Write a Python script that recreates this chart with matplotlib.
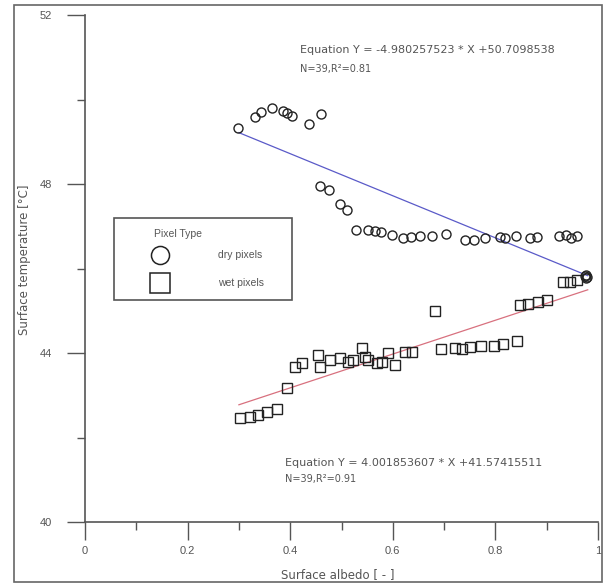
import numpy as np
import matplotlib
matplotlib.use("Agg")
import matplotlib.pyplot as plt
from matplotlib.lines import Line2D
from matplotlib.patches import Rectangle

plt.rcParams['font.family'] = ['Liberation Sans', 'DejaVu Sans']

# dry pixels (circles)
dry_albedo = [0.298, 0.331, 0.343, 0.365, 0.386, 0.394, 0.403, 0.437, 0.460,
              0.458, 0.476, 0.497, 0.511, 0.528, 0.552, 0.565, 0.577, 0.598,
              0.620, 0.635, 0.653, 0.676, 0.704, 0.741, 0.758, 0.780, 0.809,
              0.819, 0.840, 0.867, 0.881, 0.924, 0.938, 0.947, 0.959, 0.975,
              0.977, 0.977, 0.979]
dry_temp = [49.33, 49.59, 49.70, 49.80, 49.73, 49.68, 49.61, 49.42, 49.66,
            47.95, 47.86, 47.53, 47.38, 46.91, 46.91, 46.89, 46.86, 46.79,
            46.72, 46.74, 46.77, 46.77, 46.82, 46.67, 46.67, 46.72, 46.74,
            46.72, 46.77, 46.72, 46.74, 46.77, 46.79, 46.72, 46.77, 45.82,
            45.78, 45.85, 45.80]

# wet pixels (squares)
wet_albedo = [0.302, 0.322, 0.337, 0.355, 0.374, 0.394, 0.409, 0.423, 0.454,
              0.458, 0.478, 0.497, 0.513, 0.522, 0.540, 0.546, 0.552, 0.569,
              0.579, 0.591, 0.604, 0.624, 0.637, 0.682, 0.694, 0.721, 0.735,
              0.750, 0.772, 0.797, 0.815, 0.842, 0.848, 0.864, 0.883, 0.901,
              0.932, 0.945, 0.959]
wet_temp = [42.46, 42.49, 42.53, 42.60, 42.67, 43.17, 43.67, 43.76, 43.95,
            43.67, 43.83, 43.88, 43.79, 43.83, 44.12, 43.91, 43.83, 43.76,
            43.79, 44.00, 43.72, 44.02, 44.02, 44.99, 44.09, 44.12, 44.09,
            44.14, 44.17, 44.17, 44.21, 44.28, 45.14, 45.16, 45.21, 45.25,
            45.68, 45.68, 45.73]

dry_fit = (-4.980257523, 50.7098538)
wet_fit = (4.001853607, 41.57415511)
fit_range = [0.3, 0.98]

fig = plt.figure(figsize=(6.13, 5.86), dpi=100)
ax = fig.add_axes([85/613, 1-522/586, 513/613, 507/586])

tc = '#555555'
wide = ['DejaVu Sans']
xf = np.array(fit_range)
ax.plot(xf, dry_fit[0]*xf + dry_fit[1], color='#5a5ac8', lw=0.9)
ax.plot(xf, wet_fit[0]*xf + wet_fit[1], color='#d8707e', lw=0.9)
ax.plot(dry_albedo, dry_temp, 'o', mfc='none', mec='#222222', ms=6.5, mew=1.0)
ax.plot(wet_albedo, wet_temp, 's', mfc='none', mec='#222222', ms=6.5, mew=1.0)

ax.set_xlim(0, 1)
ax.set_ylim(40, 52)
ax.set_xticks([0, 0.2, 0.4, 0.6, 0.8, 1])
ax.set_xticklabels(['0', '0.2', '0.4', '0.6', '0.8', '1'])
ax.set_xticks(np.arange(0.1, 1, 0.2), minor=True)
ax.set_yticks([40, 44, 48, 52])
ax.set_yticks([42, 46, 50], minor=True)
for s in ['top', 'right']:
    ax.spines[s].set_visible(False)
for s in ['left', 'bottom']:
    ax.spines[s].set_color('#555555')
    ax.spines[s].set_linewidth(1.2)
ax.tick_params(which='major', direction='out', length=13, width=1.0,
               color='#555555', labelsize=8, labelcolor=tc, pad=4)
ax.tick_params(axis='y', which='major', pad=11)
ax.tick_params(which='minor', direction='out', length=6, width=1.0,
               color='#555555')

ax.set_xlabel('Surface albedo [ - ]', fontsize=8.5, color=tc, family=wide)
ax.xaxis.set_label_coords((338-85)/513, (522-568)/507)
ax.set_ylabel('Surface temperature [°C]', fontsize=8.5, color=tc, family=wide)
ax.yaxis.set_label_coords((31-85)/513, (522-260)/507)

fig.text(300/613, 1-50/586, 'Equation Y = -4.980257523 * X +50.7098538',
         fontsize=8, color=tc, va='center', family=wide)
fig.text(300/613, 1-69/586, 'N=39,R²=0.81',
         fontsize=7, color=tc, va='center', family=wide)
fig.text(285/613, 1-463/586, 'Equation Y = 4.001853607 * X +41.57415511',
         fontsize=8, color=tc, va='center', family=wide)
fig.text(285/613, 1-479/586, 'N=39,R²=0.91',
         fontsize=7, color=tc, va='center', family=wide)

# legend box
fig.patches.append(Rectangle((114/613, 1-300/586), 178/613, 82/586,
                             transform=fig.transFigure, fill=False,
                             ec='#555555', lw=1.2))
fig.text(178/613, 1-234/586, 'Pixel Type', fontsize=7.5, color=tc,
         ha='center', va='center')
fig.add_artist(Line2D([160/613], [1-255/586], marker='o', ms=13, mfc='none',
                      mec='#222222', mew=1.1, transform=fig.transFigure))
fig.add_artist(Line2D([160/613], [1-283/586], marker='s', ms=15, mfc='none',
                      mec='#222222', mew=1.1, transform=fig.transFigure))
fig.text(218/613, 1-255/586, 'dry pixels', fontsize=7.5, color=tc, va='center')
fig.text(218/613, 1-283/586, 'wet pixels', fontsize=7.5, color=tc, va='center')

# outer frame
fig.patches.append(Rectangle((14/613, 1-582/586), 588/613, 577/586,
                             transform=fig.transFigure, fill=False,
                             ec='#666666', lw=1.2))

fig.savefig('out.png', dpi=100)
